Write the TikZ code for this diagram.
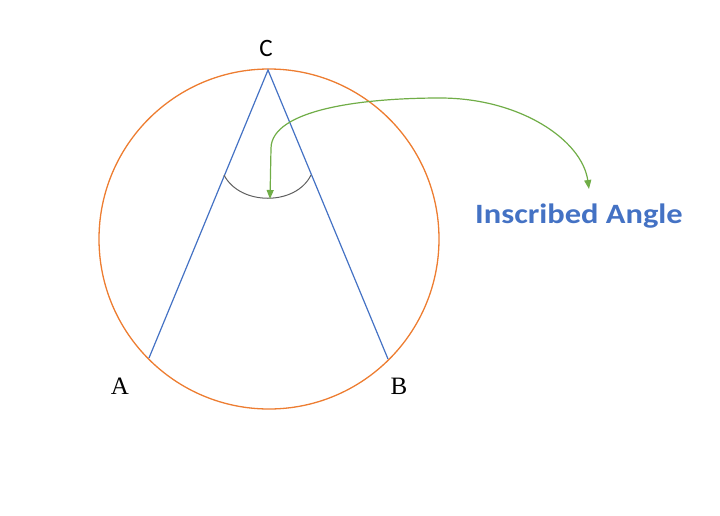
\documentclass[tikz,border=0pt]{standalone}
\usepackage{fontspec}
\setmainfont{Liberation Serif}
\newfontfamily\calib{Carlito}
\usetikzlibrary{arrows.meta}
\definecolor{orng}{RGB}{237,125,49}
\definecolor{blu}{RGB}{68,114,196}
\definecolor{grn}{RGB}{112,173,71}
\definecolor{gry}{RGB}{95,95,95}
\begin{document}
\begin{tikzpicture}[x=1pt,y=-1pt,
  circ/.style={draw=orng,line width=1.3pt},
  side/.style={draw=blu,line width=1.2pt},
  anglearc/.style={draw=gry,line width=1pt},
  pointer/.style={draw=grn,line width=1.2pt,{Triangle[width=7pt,length=9pt,fill=grn]}-{Triangle[width=7pt,length=9pt,fill=grn]}},
  lbl/.style={inner sep=0pt,font=\fontsize{25}{25}\selectfont},
  title/.style={inner sep=0pt,text=blu,xscale=1.16,font=\calib\bfseries\fontsize{28}{28}\selectfont}]
\useasboundingbox (0,0) rectangle (720,515);
\coordinate (O) at (269,239);
\coordinate (C) at (268,70);
\coordinate (A) at (149,358);
\coordinate (B) at (388,359);
\draw[circ] (O) circle (170);
\draw[side] (A) -- (C) -- (B);
\draw[anglearc] (224,175) .. controls (240,206) and (296,206) .. (311,175);
\node[lbl,font=\calib\fontsize{25}{25}\selectfont] (lc) at (266,48) {C};
\node[lbl] (la) at (120,386) {A};
\node[lbl] (lb) at (399,386) {B};
\node[title] (t) at (579,216) {Inscribed Angle};
\coordinate (p1) at (270,199);
\coordinate (p2) at (589,189);
\draw[pointer] (p1) -- (271,148) .. controls (272,110) and (360,98) .. (440,98) .. controls (520,98) and (582,140) .. (p2);
\end{tikzpicture}
\end{document}
